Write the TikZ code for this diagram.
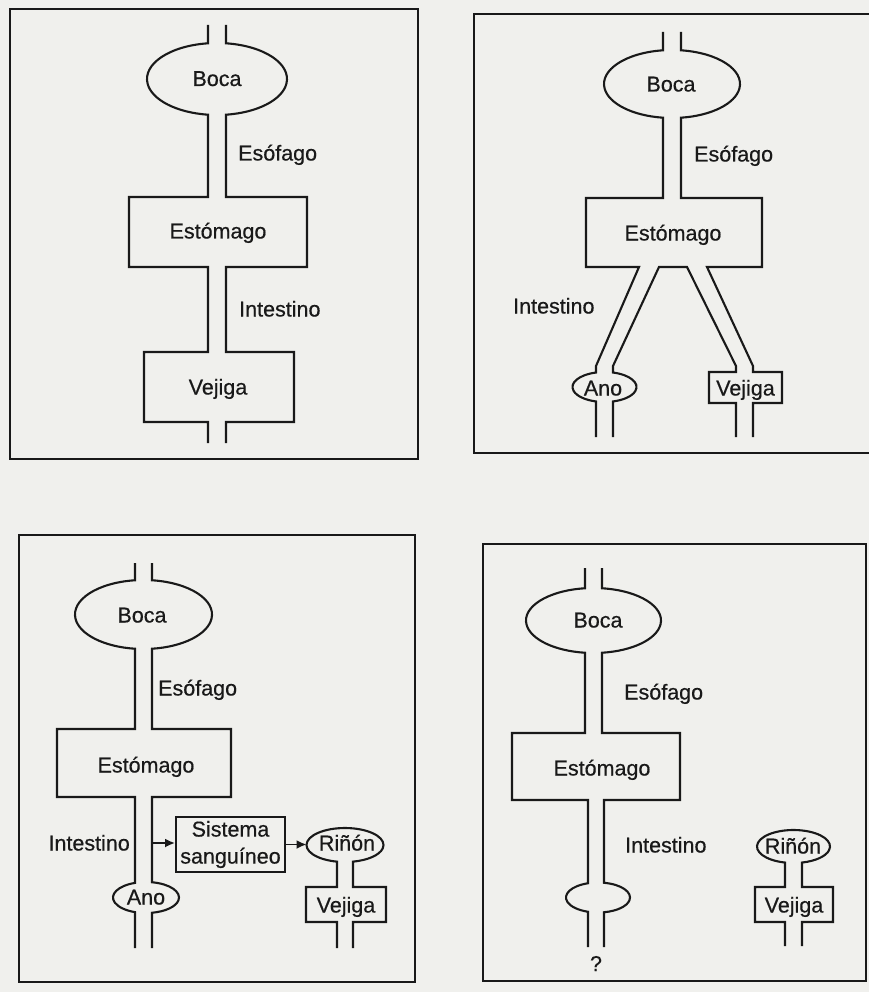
\documentclass[tikz,border=0pt]{standalone}
\usepackage{fontspec}
\setmainfont{Liberation Sans}[FakeBold=0.5]
\usetikzlibrary{arrows.meta}
\definecolor{paper}{RGB}{240,240,237}
\definecolor{ink}{RGB}{25,25,25}
% left part of an oval crossed by a vertical tube (top to bottom)
\newcommand\lov[5]{-- ({#1-#5},{#2+#4*sin(acos(#5/#3))}) arc[start angle={180-acos(#5/#3)}, end angle={180+acos(#5/#3)}, x radius=#3pt, y radius=#4pt]}
% right part of an oval crossed by a vertical tube (top to bottom)
\newcommand\rov[5]{-- ({#1+#5},{#2+#4*sin(acos(#5/#3))}) arc[start angle={acos(#5/#3)}, end angle={-acos(#5/#3)}, x radius=#3pt, y radius=#4pt]}
% oval closed on top, open below (from bottom-left over the top to bottom-right)
\newcommand\tov[5]{-- ({#1-#5},{#2-#4*sin(acos(#5/#3))}) arc[start angle={180+acos(#5/#3)}, end angle={-acos(#5/#3)}, x radius=#3pt, y radius=#4pt]}
\tikzset{
  frame/.style={draw=ink, line width=2pt},
  tube/.style={draw=ink, line width=2.1pt, line join=miter},
  lab/.style={font=\fontsize{21.5}{27}\selectfont, inner sep=0pt, text=ink},
  flow/.style={draw=ink, line width=1.8pt, -{Latex[length=10pt,width=9pt]}},
}
\begin{document}
\begin{tikzpicture}[x=1pt,y=1pt]
\useasboundingbox (0,0) rectangle (869,-992);
\fill[paper] (0,0) rectangle (869,-992);

% ---------------- Panel 1 ----------------
\draw[frame] (10,-9) rectangle (418,-459);
\draw[tube] (208,-25) \lov{217}{-79}{70}{36}{9} -- (208,-197) -- (129,-197) -- (129,-267)
  -- (208,-267) -- (208,-352) -- (144,-352) -- (144,-422) -- (208,-422) -- (208,-443);
\draw[tube] (226,-25) \rov{217}{-79}{70}{36}{9} -- (226,-197) -- (307,-197) -- (307,-267)
  -- (226,-267) -- (226,-352) -- (294,-352) -- (294,-422) -- (226,-422) -- (226,-443);
\node[lab, anchor=base] (boca1) at (217,-86) {Boca};
\node[lab, anchor=base west] (esof1) at (238,-160.5) {Esófago};
\node[lab, anchor=base] (esto1) at (218,-238.5) {Estómago};
\node[lab, anchor=base west] (inte1) at (239,-316.5) {Intestino};
\node[lab, anchor=base] (veji1) at (218,-394.5) {Vejiga};

% ---------------- Panel 2 ----------------
\draw[frame] (869,-14) -- (474,-14) -- (474,-453) -- (869,-453);
\draw[tube] (663,-32) \lov{672}{-84}{68}{34}{9} -- (663,-198) -- (586,-198) -- (586,-267)
  -- (639,-267) -- (596,-366) \lov{604.5}{-387}{32}{15}{8.5} -- (596,-437);
\draw[tube] (681,-32) \rov{672}{-84}{68}{34}{9} -- (681,-198) -- (762,-198) -- (762,-267)
  -- (707,-267) -- (753,-366) -- (753,-372) -- (782,-372) -- (782,-403) -- (753,-403) -- (753,-437);
\draw[tube] (736,-437) -- (736,-403) -- (709,-403) -- (709,-372) -- (736,-372) -- (736,-366)
  -- (687,-267) -- (659,-267) -- (613,-366) \rov{604.5}{-387}{32}{15}{8.5} -- (613,-437);
\node[lab, anchor=base] (boca2) at (671,-91.5) {Boca};
\node[lab, anchor=base west] (esof2) at (694,-161.5) {Esófago};
\node[lab, anchor=base] (esto2) at (673,-240.5) {Estómago};
\node[lab, anchor=base west] (inte2) at (513,-313.5) {Intestino};
\node[lab, anchor=base] (ano2) at (603,-395.5) {Ano};
\node[lab, anchor=base] (veji2) at (745.5,-395.5) {Vejiga};

% ---------------- Panel 3 ----------------
\draw[frame] (19,-535) rectangle (415,-982);
\draw[tube] (135,-563) \lov{143.5}{-614.5}{68.5}{34.5}{8.5} -- (135,-729) -- (57,-729) -- (57,-797)
  -- (135,-797) \lov{146}{-897.5}{33}{15.5}{11} -- (135,-948);
\draw[tube] (152,-563) \rov{143.5}{-614.5}{68.5}{34.5}{8.5} -- (152,-729) -- (231,-729) -- (231,-797)
  -- (152,-797) \rov{146}{-897.5}{33}{15.5}{6} -- (152,-948);
\draw[tube] (337,-948) -- (337,-922) -- (306,-922) -- (306,-887) -- (337,-887)
  \tov{345}{-845}{38.5}{17}{8} -- (353,-887) -- (386,-887) -- (386,-922) -- (353,-922) -- (353,-948);
\node[lab, anchor=base] (boca3) at (142,-622.5) {Boca};
\node[lab, anchor=base west] (esof3) at (158,-695.5) {Esófago};
\node[lab, anchor=base] (esto3) at (146,-772.5) {Estómago};
\node[lab, anchor=base east] (inte3) at (130,-850.5) {Intestino};
\node[lab, anchor=base] (ano3) at (146,-904.5) {Ano};
\node[lab, draw=ink, line width=2pt, minimum width=109pt, minimum height=55pt, align=center] (sis) at (230.5,-844.5) {Sistema\\sanguíneo};
\node[lab, anchor=base] (rin3) at (347,-850.5) {Riñón};
\node[lab, anchor=base] (veji3) at (346,-912.5) {Vejiga};
\coordinate (i3) at (153,-843);
\coordinate (rin3w) at (306.5,-844.5);
\draw[flow] (i3) -- (sis.west |- i3);
\draw[flow] (sis.east) -- (rin3w);

% ---------------- Panel 4 ----------------
\draw[frame] (483,-544) rectangle (866,-981);
\draw[tube] (585,-568) \lov{593.5}{-620.5}{67.5}{32.5}{8.5} -- (585,-733) -- (512,-733) -- (512,-800)
  -- (588,-800) \lov{598}{-897.5}{32}{15}{10} -- (588,-947);
\draw[tube] (602,-568) \rov{593.5}{-620.5}{67.5}{32.5}{8.5} -- (602,-733) -- (680,-733) -- (680,-800)
  -- (604,-800) \rov{598}{-897.5}{32}{15}{6} -- (604,-947);
\draw[tube] (785,-946) -- (785,-922) -- (755,-922) -- (755,-887) -- (785,-887)
  \tov{793.5}{-846.5}{36.5}{16.5}{8.5} -- (802,-887) -- (833,-887) -- (833,-922) -- (802,-922) -- (802,-946);
\node[lab, anchor=base] (boca4) at (598,-627.5) {Boca};
\node[lab, anchor=base west] (esof4) at (624,-699.5) {Esófago};
\node[lab, anchor=base] (esto4) at (602,-775.5) {Estómago};
\node[lab, anchor=base west] (inte4) at (625,-852.5) {Intestino};
\node[lab, anchor=base] (q4) at (596,-971) {?};
\node[lab, anchor=base] (rin4) at (793,-853.5) {Riñón};
\node[lab, anchor=base] (veji4) at (794,-912.5) {Vejiga};
\end{tikzpicture}
\end{document}
